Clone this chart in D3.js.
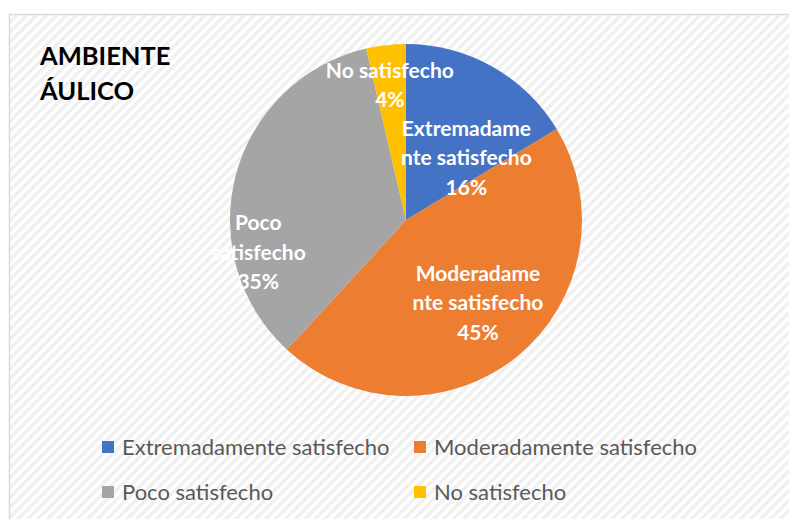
<!DOCTYPE html>
<html>
<head>
  <meta charset="utf-8">
  <title>Ambiente áulico</title>
  <script src="https://d3js.org/d3.v7.min.js"></script>
  <style>
    body { margin: 0; background: #fff; }
    text { font-family: Lato, "Open Sans", sans-serif; }
  </style>
</head>
<body>
  <div id="chart"></div>
  <script>
    // Datos del gráfico (número de respuestas por categoría)
    const categorias = ["Extremadamente satisfecho", "Moderadamente satisfecho", "Poco satisfecho", "No satisfecho"];
    const valores = [9, 25, 19, 2];
    const colores = ["#4472c4", "#ed7d31", "#a5a5a5", "#ffc000"];
    // nombres dentro del pastel (partidos en líneas como en el original)
    const nombresEtiqueta = [
      ["Extremadame", "nte satisfecho"],
      ["Moderadame", "nte satisfecho"],
      ["Poco", "satisfecho"],
      ["No satisfecho"]
    ];

    const W = 789, H = 519;
    const cx = 406, cy = 220, radius = 176;
    const total = d3.sum(valores);

    const svg = d3.select("#chart").append("svg")
      .attr("width", W).attr("height", H);

    // patrón de rayas diagonales del fondo
    const defs = svg.append("defs");
    const pat = defs.append("pattern")
      .attr("id", "rayas")
      .attr("patternUnits", "userSpaceOnUse")
      .attr("width", 7).attr("height", 7)
      .attr("patternTransform", "rotate(45)");
    pat.append("rect").attr("width", 7).attr("height", 7).attr("fill", "#ffffff");
    pat.append("rect").attr("width", 3.5).attr("height", 7).attr("fill", "#f0f0f0");

    svg.append("rect")
      .attr("x", 9.5).attr("y", 14.5)
      .attr("width", W + 10).attr("height", H + 10)
      .attr("fill", "url(#rayas)")
      .attr("stroke", "#d9d9d9")
      .attr("stroke-width", 1.5);

    // Título
    const titulo = svg.append("text")
      .attr("x", 40).attr("y", 65)
      .attr("font-size", 25.5).attr("font-weight", "bold")
      .attr("fill", "#000");
    titulo.append("tspan").attr("x", 40).attr("dy", 0).text("AMBIENTE");
    titulo.append("tspan").attr("x", 40).attr("dy", 35).text("ÁULICO");

    // Pastel
    const pie = d3.pie().sort(null).value(d => d)(valores);
    const arc = d3.arc().innerRadius(0).outerRadius(radius);

    const g = svg.append("g").attr("transform", `translate(${cx},${cy})`);
    g.selectAll("path")
      .data(pie)
      .enter()
      .append("path")
      .attr("d", arc)
      .attr("fill", (d, i) => colores[i]);

    // posición de cada etiqueta: fracción del radio y giro (grados) respecto a la bisectriz
    const ajustes = [[0.49, 15], [0.625, -1.6], [0.86, -27.2], [0.77, -0.3]];
    const lineH = 29.5;
    g.selectAll("text.lbl")
      .data(pie)
      .enter()
      .append("text")
      .attr("class", "lbl")
      .attr("text-anchor", "middle")
      .attr("font-size", 21)
      .attr("font-weight", "bold")
      .attr("fill", "#fff")
      .each(function(d, i) {
        const a = (d.startAngle + d.endAngle) / 2 + ajustes[i][1] * Math.PI / 180;
        const r = radius * ajustes[i][0];
        const px = Math.sin(a) * r;
        const py = -Math.cos(a) * r;
        const lines = nombresEtiqueta[i].concat([Math.round(d.value / total * 100) + "%"]);
        const t = d3.select(this);
        lines.forEach((s, k) => {
          t.append("tspan")
            .attr("x", px)
            .attr("y", py + (k - (lines.length - 1) / 2) * lineH + 7)
            .text(s);
        });
      });

    // Leyenda
    const leyX = [102, 414], leyY = [447, 492];
    categorias.forEach((c, i) => {
      const lx = leyX[i % 2], ly = leyY[Math.floor(i / 2)];
      svg.append("rect")
        .attr("x", lx).attr("y", ly - 6)
        .attr("width", 12).attr("height", 12)
        .attr("fill", colores[i]);
      svg.append("text")
        .attr("x", lx + 20).attr("y", ly + 8)
        .attr("font-size", 22)
        .attr("fill", "#595959")
        .text(c);
    });
  </script>
</body>
</html>
